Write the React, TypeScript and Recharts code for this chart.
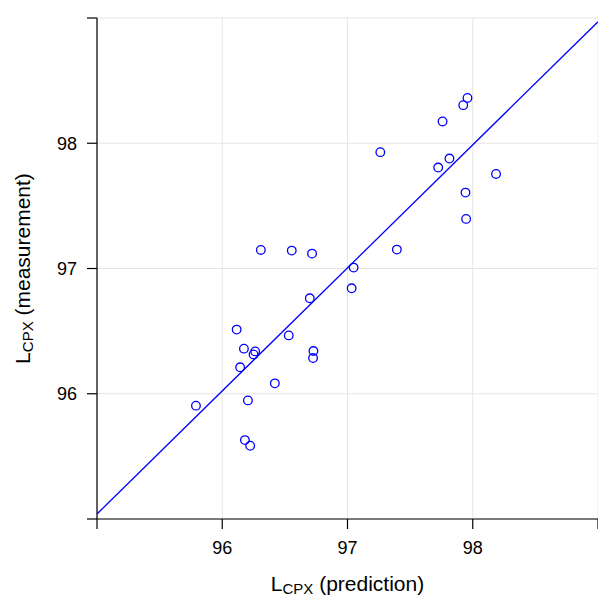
import {
  ScatterChart,
  Scatter,
  XAxis,
  YAxis,
  CartesianGrid,
  ReferenceLine,
} from "recharts";

const predicted = [
  95.79, 96.115, 96.143, 96.173, 96.181, 96.205, 96.223, 96.25, 96.263, 96.308,
  96.42, 96.531, 96.555, 96.699, 96.717, 96.728, 96.725, 97.033, 97.049, 97.262,
  97.394, 97.724, 97.759, 97.814, 97.924, 97.942, 97.947, 97.958, 98.186,
];

const measured = [
  95.905, 96.512, 96.211, 96.36, 95.63, 95.947, 95.585, 96.314, 96.338, 97.148,
  96.083, 96.466, 97.143, 96.762, 97.119, 96.341, 96.285, 96.842, 97.007, 97.929,
  97.151, 97.806, 98.174, 97.878, 98.304, 97.606, 97.396, 98.362, 97.755,
];

// fitted line end points (x, y)
const fitX = [95, 99];
const fitY = [95.04, 98.97];

const axisTicks = [95, 96, 97, 98, 99];
const labelledTicks = [96, 97, 98];

const points = predicted.map((x, i) => ({ x, y: measured[i] }));

const font = "'Liberation Sans', Arial, Helvetica, sans-serif";
const tickFmt = (v: number) => (labelledTicks.includes(v) ? String(v) : "");

const Ring = (props: any) => (
  <circle cx={props.cx} cy={props.cy} r={4.3} fill="none" stroke="#0000ff" strokeWidth={1.3} />
);

const XTitle = (props: any) => {
  const { x, y, width } = props.viewBox;
  return (
    <text x={x + width / 2} y={y + 72} textAnchor="middle" fontFamily={font} fontSize={21} fill="#000">
      <tspan>L</tspan>
      <tspan fontSize={15} dy={3}>CPX</tspan>
      <tspan dy={-3}> (prediction)</tspan>
    </text>
  );
};

const YTitle = (props: any) => {
  const { y, height } = props.viewBox;
  const cx = 30;
  const cy = y + height / 2;
  return (
    <text
      x={cx}
      y={cy}
      transform={`rotate(-90, ${cx}, ${cy})`}
      textAnchor="middle"
      fontFamily={font}
      fontSize={21}
      fill="#000"
    >
      <tspan>L</tspan>
      <tspan fontSize={15} dy={3}>CPX</tspan>
      <tspan dy={-3}> (measurement)</tspan>
    </text>
  );
};

export default function App() {
  return (
    <div style={{ position: "absolute", left: 0, top: 0, background: "#fff" }}>
      <ScatterChart
        width={598}
        height={601}
        margin={{ top: 18, right: 0, left: 0, bottom: 0 }}
      >
        <CartesianGrid stroke="#e6e6e6" strokeWidth={1} />
        <XAxis
          type="number"
          dataKey="x"
          domain={[95, 99]}
          ticks={axisTicks}
          tickFormatter={tickFmt}
          height={82}
          tickSize={10}
          tickMargin={12}
          stroke="#000"
          strokeWidth={1.2}
          tick={{ fill: "#000", fontSize: 18, fontFamily: font }}
          label={{ content: XTitle }}
        />
        <XAxis
          xAxisId="top"
          orientation="top"
          type="number"
          domain={[95, 99]}
          ticks={axisTicks}
          tickFormatter={() => ""}
          height={0}
          tickSize={10}
          stroke="#000"
          strokeWidth={1.2}
        />
        <YAxis
          type="number"
          dataKey="y"
          domain={[95, 99]}
          ticks={axisTicks}
          tickFormatter={tickFmt}
          width={97}
          tickSize={10}
          tickMargin={10}
          stroke="#000"
          strokeWidth={1.2}
          tick={{ fill: "#000", fontSize: 18, fontFamily: font }}
          label={{ content: YTitle }}
        />
        <ReferenceLine
          segment={[
            { x: fitX[0], y: fitY[0] },
            { x: fitX[1], y: fitY[1] },
          ]}
          stroke="#0000ff"
          strokeWidth={1.3}
          ifOverflow="hidden"
        />
        <Scatter data={points} shape={Ring} isAnimationActive={false} />
      </ScatterChart>
    </div>
  );
}
